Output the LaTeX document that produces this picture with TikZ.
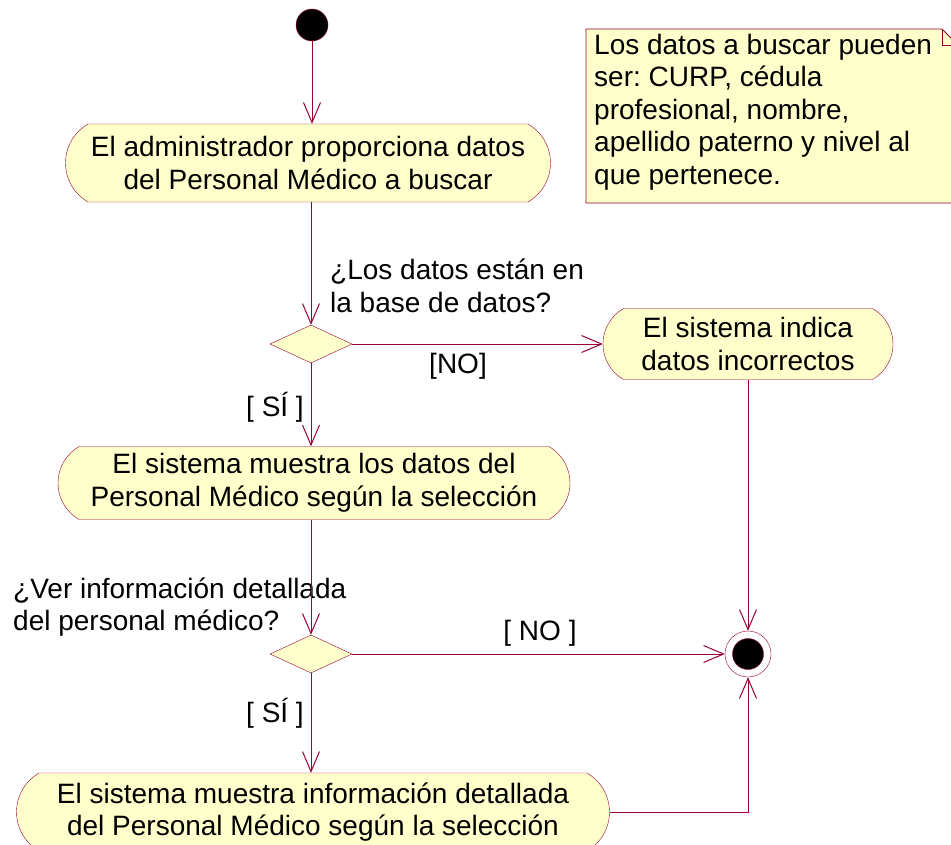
\documentclass[tikz,border=0pt]{standalone}
\usepackage{fontspec}
\setmainfont{Liberation Sans}
\frenchspacing
\usetikzlibrary{positioning,calc,arrows.meta,shapes.misc,shapes.geometric}
\definecolor{roseline}{RGB}{153,0,51}
\definecolor{rosefill}{RGB}{255,255,204}
\tikzset{
  >={Straight Barb[length=20pt,width=17pt,line width=1pt]},
  my text/.style={
    font=\fontsize{28}{32.5}\selectfont,
    inner sep=0pt
  },
  my activity/.style={
    my text,
    draw=roseline,
    fill=rosefill,
    rounded rectangle,
    rounded rectangle arc length=120,
    align=center,
    minimum height=78pt
  },
  my decision/.style={
    draw=roseline,
    fill=rosefill,
    diamond,
    aspect=2.15,
    minimum width=82pt,
    minimum height=38pt,
    inner sep=0pt
  },
  my start/.style={
    draw=roseline,
    fill=black,
    circle,
    minimum size=32pt,
    inner sep=0pt
  },
  my end/.style={
    draw=roseline,
    circle,
    minimum size=46pt,
    inner sep=0pt,
    path picture={\fill[black] (path picture bounding box.center) circle (15.5pt);
                  \draw[roseline] (path picture bounding box.center) circle (15.5pt);}
  },
  my flow/.style={
    draw=roseline,
    line width=0.9pt,
    ->
  },
  my note/.style={
    my text,
    align=left,
    anchor=north west
  }
}

\begin{document}
\begin{tikzpicture}[x=1pt,y=-1pt]
\useasboundingbox (0,0) rectangle (951,844);
\clip (0,0) rectangle (951,844);
% nodes
\node[my start] (start) at (312,25) {};
\node[my activity,minimum width=485pt] (proporciona) at (308,163)
  {El administrador proporciona datos\\del Personal Médico a buscar};
\node[my decision] (existe) at (311,344) {};
\node[my activity,minimum width=290pt,minimum height=71pt] (incorrectos) at (748,344)
  {El sistema indica\\datos incorrectos};
\node[my activity,minimum width=512pt,minimum height=73pt] (muestra) at (314,483)
  {El sistema muestra los datos del\\Personal Médico según la selección};
\node[my decision] (detalle) at (311,654) {};
\node[my activity,minimum width=593pt] (informacion) at (313,812)
  {El sistema muestra información detallada\\del Personal Médico según la selección};
\node[my end] (fin) at (748,654) {};
% note
\fill[rosefill] (586,29) -- (942,29) -- (958,45) -- (958,203) -- (586,203) -- cycle;
\draw[roseline,line width=0.9pt] (958,203) -- (586,203) -- (586,29) -- (942,29) -- (958,45);
\draw[roseline,line width=0.9pt] (942,29) -- (942,45) -- (958,45);
\node[my note] (nota) at (594,34)
  {Los datos a buscar pueden\\ser: CURP, cédula\\profesional, nombre,\\apellido paterno y nivel al\\que pertenece.};
% labels
\node[my text,align=left,anchor=west] (preg1) at (330,286)
  {¿Los datos están en\\la base de datos?};
\node[my text,align=left,anchor=west] (preg2) at (13,607)
  {¿Ver información detallada\\del personal médico?};
\node[my text] (no1) at (458,366) {[NO]};
\node[my text] (si1) at (275,407) {[ SÍ ]};
\node[my text] (si2) at (275,713) {[ SÍ ]};
\node[my text] (no2) at (540,633) {[ NO ]};
% flows
\draw[my flow] (start) -- (start |- proporciona.north);
\draw[my flow] (existe.north |- proporciona.south) -- (existe.north);
\draw[my flow] (existe.south) -- (existe.south |- muestra.north);
\draw[my flow] (existe.east) -- (incorrectos.west);
\draw[my flow] (detalle.north |- muestra.south) -- (detalle.north);
\draw[my flow] (detalle.south) -- (detalle.south |- informacion.north);
\draw[my flow] (detalle.east) -- (fin.west);
\draw[my flow] (incorrectos.south) -- (fin.north);
\draw[my flow] (informacion.east) -| (fin.south);
\end{tikzpicture}
\end{document}
